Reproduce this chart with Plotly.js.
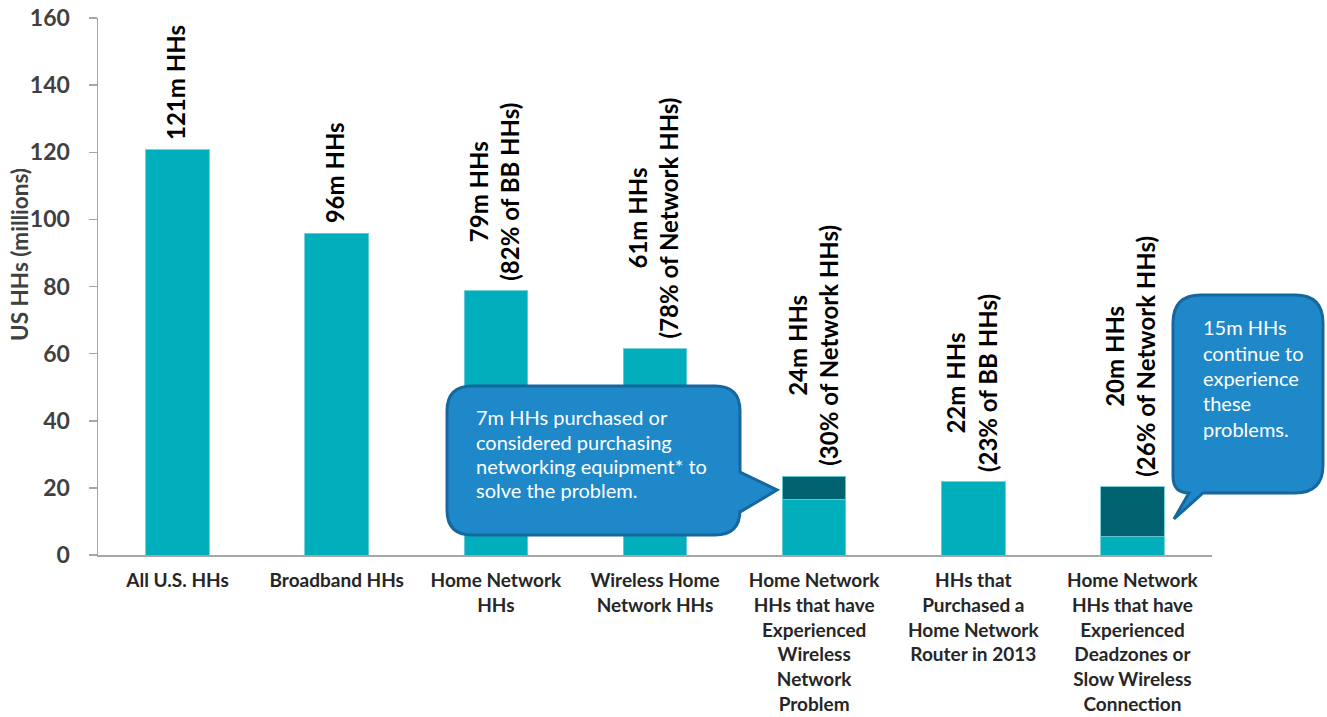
<!DOCTYPE html>
<html>
<head>
<meta charset="utf-8">
<script src="https://cdn.plot.ly/plotly-3.0.1.min.js"></script>
<style>
  html, body { margin: 0; padding: 0; background: #ffffff; }
  #chart { width: 1327px; height: 717px; }
</style>
</head>
<body>
<div id="chart"></div>
<script>
// ---- data ----
const categories = ["All U.S. HHs", "Broadband HHs", "Home Network HHs", "Wireless Home Network HHs",
  "Wireless Network Problem", "Purchased Router 2013", "Deadzones or Slow Wireless"];
const tickLabels = [
  "All U.S. HHs",
  "Broadband HHs",
  "Home Network<br>HHs",
  "Wireless Home<br>Network HHs",
  "Home Network<br>HHs that have<br>Experienced<br>Wireless<br>Network<br>Problem",
  "HHs that<br>Purchased a<br>Home Network<br>Router in 2013",
  "Home Network<br>HHs that have<br>Experienced<br>Deadzones or<br>Slow Wireless<br>Connection"
];
const baseValues = [120.7, 95.9, 78.7, 61.4, 16.4, 21.8, 5.4];
const stackedValues = [null, null, null, null, 7.1, null, 14.9];
const barLabels = [
  "121m HHs",
  "96m HHs",
  "79m HHs<br>(82% of BB HHs)",
  "61m HHs<br>(78% of Network HHs)",
  "24m HHs<br>(30% of Network HHs)",
  "22m HHs<br>(23% of BB HHs)",
  "20m HHs<br>(26% of Network HHs)"
];
const yTicks = [0, 20, 40, 60, 80, 100, 120, 140, 160];
const callout1Lines = ["7m HHs purchased or", "considered purchasing", "networking equipment* to", "solve the problem."];
const callout2Lines = ["15m HHs", "continue to", "experience", "these", "problems."];

// ---- geometry of plot area (pixels) ----
const PL = 98, PR = 1212, PT = 18, PB = 555;
const W = 1327, H = 717;
const px = p => (p - PL) / (PR - PL);
const py = p => (PB - p) / (PB - PT);

const LIGHT = '#00AEBC';
const DARK = '#00636F';
const FONT = 'Lato, "Open Sans", sans-serif';

const traces = [
  {
    type: 'bar', x: categories, y: baseValues, width: 0.4,
    marker: { color: LIGHT, line: { color: 'rgba(110,205,215,0.9)', width: 1 } },
    hoverinfo: 'skip', showlegend: false
  },
  {
    type: 'bar', x: categories, y: stackedValues, width: 0.4,
    marker: { color: DARK, line: { color: 'rgba(110,205,215,0.9)', width: 1 } },
    hoverinfo: 'skip', showlegend: false
  }
];

const annotations = [];
categories.forEach((c, i) => {
  const total = baseValues[i] + (stackedValues[i] || 0);
  annotations.push({
    x: c, y: total, xref: 'x', yref: 'y',
    text: barLabels[i], textangle: -90, showarrow: false,
    xanchor: 'center', yanchor: 'bottom', yshift: 8, xshift: -2, align: 'center',
    font: { family: FONT, size: 24, color: '#000000', weight: 'bold' }
  });
});

// y-axis title
annotations.push({
  xref: 'paper', yref: 'paper', x: px(19), y: py(255),
  text: 'US HHs (millions)', textangle: -90, showarrow: false,
  xanchor: 'center', yanchor: 'middle',
  font: { family: FONT, size: 22.5, color: '#404040', weight: 'bold' }
});

// callout texts
const CF = 20;
callout1Lines.forEach((t, k) => {
  const base = 425 + k * 24.3;
  annotations.push({
    xref: 'paper', yref: 'paper', x: px(474), y: py(base - 0.38 * CF),
    text: t, showarrow: false, xanchor: 'left', yanchor: 'middle', align: 'left',
    font: { family: FONT, size: CF, color: '#ffffff' }
  });
});
callout2Lines.forEach((t, k) => {
  const base = 335 + k * 25.3;
  annotations.push({
    xref: 'paper', yref: 'paper', x: px(1201), y: py(base - 0.38 * CF),
    text: t, showarrow: false, xanchor: 'left', yanchor: 'middle', align: 'left',
    font: { family: FONT, size: CF, color: '#ffffff' }
  });
});

function P(x, y) { return px(x).toFixed(5) + ',' + py(y).toFixed(5); }

// callout 1 bubble (pointer to the right)
function bubble1() {
  const L = 447, R = 740, T = 386, B = 535, r = 25;
  return 'M' + P(L + r, T) + ' L' + P(R - r, T) + ' Q' + P(R, T) + ' ' + P(R, T + r) +
    ' L' + P(R, 472) + ' L' + P(777, 490) + ' L' + P(R, 512) +
    ' L' + P(R, B - r) + ' Q' + P(R, B) + ' ' + P(R - r, B) +
    ' L' + P(L + r, B) + ' Q' + P(L, B) + ' ' + P(L, B - r) +
    ' L' + P(L, T + r) + ' Q' + P(L, T) + ' ' + P(L + r, T) + ' Z';
}
// callout 2 bubble (pointer bottom-left)
function bubble2() {
  const L = 1173, R = 1323, T = 295, B = 493, r = 28;
  return 'M' + P(L + r, T) + ' L' + P(R - r, T) + ' Q' + P(R, T) + ' ' + P(R, T + r) +
    ' L' + P(R, B - r) + ' Q' + P(R, B) + ' ' + P(R - r, B) +
    ' L' + P(1203, B) + ' L' + P(1174, 519) + ' L' + P(1189, B) +
    ' Q' + P(L, B) + ' ' + P(L, B - 17) +
    ' L' + P(L, T + r) + ' Q' + P(L, T) + ' ' + P(L + r, T) + ' Z';
}

const shapes = [
  { type: 'path', xref: 'paper', yref: 'paper', path: bubble1(), layer: 'above',
    fillcolor: '#1F88C9', line: { color: '#17679F', width: 3 } },
  { type: 'path', xref: 'paper', yref: 'paper', path: bubble2(), layer: 'above',
    fillcolor: '#1F88C9', line: { color: '#17679F', width: 3 } }
];

const layout = {
  width: W, height: H,
  margin: { l: PL, r: W - PR, t: PT, b: H - PB, pad: 0 },
  paper_bgcolor: '#ffffff', plot_bgcolor: '#ffffff',
  barmode: 'stack',
  showlegend: false,
  font: { family: FONT },
  xaxis: {
    type: 'category',
    tickmode: 'array', tickvals: categories, ticktext: tickLabels,
    tickangle: 0,
    showgrid: false, zeroline: false,
    showline: true, linecolor: '#A6A6A6', linewidth: 1.5,
    ticks: '', ticklabelstandoff: 8,
    tickfont: { family: FONT, size: 19, color: '#262626', weight: 'bold' },
    fixedrange: true
  },
  yaxis: {
    range: [0, 160], tickmode: 'array', tickvals: yTicks,
    showgrid: false, zeroline: false,
    showline: true, linecolor: '#A6A6A6', linewidth: 1.5,
    ticks: 'outside', ticklen: 8, tickcolor: '#A6A6A6', tickwidth: 1.5,
    ticklabelstandoff: 14,
    tickfont: { family: FONT, size: 23, color: '#404040', weight: 'bold' },
    fixedrange: true
  },
  annotations: annotations,
  shapes: shapes
};

Plotly.newPlot('chart', traces, layout, { displayModeBar: false, staticPlot: true });
</script>
</body>
</html>
